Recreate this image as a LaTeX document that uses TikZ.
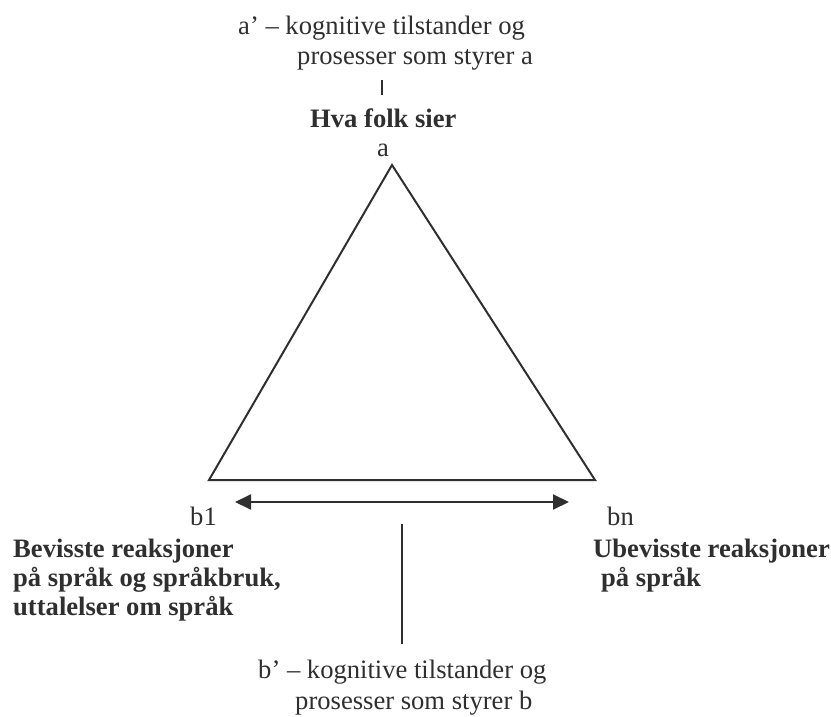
\documentclass[tikz,border=0pt]{standalone}
\usepackage{fontspec}
\setmainfont{Liberation Serif}
\usetikzlibrary{arrows.meta}
\definecolor{inchiostro}{HTML}{2F2F2F}
\tikzset{
    trekant/.style={
        x=1pt, y=-1pt,
        font=\fontsize{26.6}{30}\selectfont,
        % Stile per testo normale (ancorato alla linea di base)
        tekst/.style={anchor=base west, inner sep=0pt, text=inchiostro},
        % Stile per testo in grassetto
        overskrift/.style={tekst, font=\fontsize{26.6}{30}\selectfont\bfseries},
        % Stile per linee e frecce
        strek/.style={draw=inchiostro, line width=2pt},
        pil/.style={strek, {Triangle[length=16pt,width=15pt]}-{Triangle[length=16pt,width=15pt]}}
    }
}
\begin{document}
\begin{tikzpicture}[trekant]
    \useasboundingbox (0,0) rectangle (831,717);
    % a'
    \node[tekst] (aprim1) at (238,35) {a’ – kognitive tilstander og};
    \node[tekst] (aprim2) at (297,65) {prosesser som styrer a};
    \coordinate (strekA1) at (382,80);
    \coordinate (strekA2) at (382,95);
    \draw[strek] (strekA1) -- (strekA2);
    \node[overskrift] (hva) at (310,128) {Hva folk sier};
    \node[tekst] (a) at (377,157) {a};
    % trekanten
    \coordinate (topp) at (392,165);
    \coordinate (venstre) at (209,480);
    \coordinate (hoyre) at (595,480);
    \draw[strek, line join=miter] (topp) -- (venstre) -- (hoyre) -- cycle;
    \coordinate (pilV) at (235,502);
    \coordinate (pilH) at (569,502);
    \draw[pil] (pilV) -- (pilH);
    \node[tekst] (b1) at (190,525) {b1};
    \node[tekst] (bn) at (607,525) {bn};
    % b-siden
    \node[overskrift] (bev1) at (13,557) {Bevisste reaksjoner};
    \node[overskrift] (bev2) at (13,586) {på språk og språkbruk,};
    \node[overskrift] (bev3) at (13,615) {uttalelser om språk};
    \node[overskrift] (ubev1) at (593,557) {Ubevisste reaksjoner};
    \node[overskrift] (ubev2) at (601,586) {på språk};
    \coordinate (strekB1) at (402,524);
    \coordinate (strekB2) at (402,644);
    \draw[strek] (strekB1) -- (strekB2);
    \node[tekst] (bprim1) at (258,678) {b’ – kognitive tilstander og};
    \node[tekst] (bprim2) at (295,709) {prosesser som styrer b};
\end{tikzpicture}
\end{document}
